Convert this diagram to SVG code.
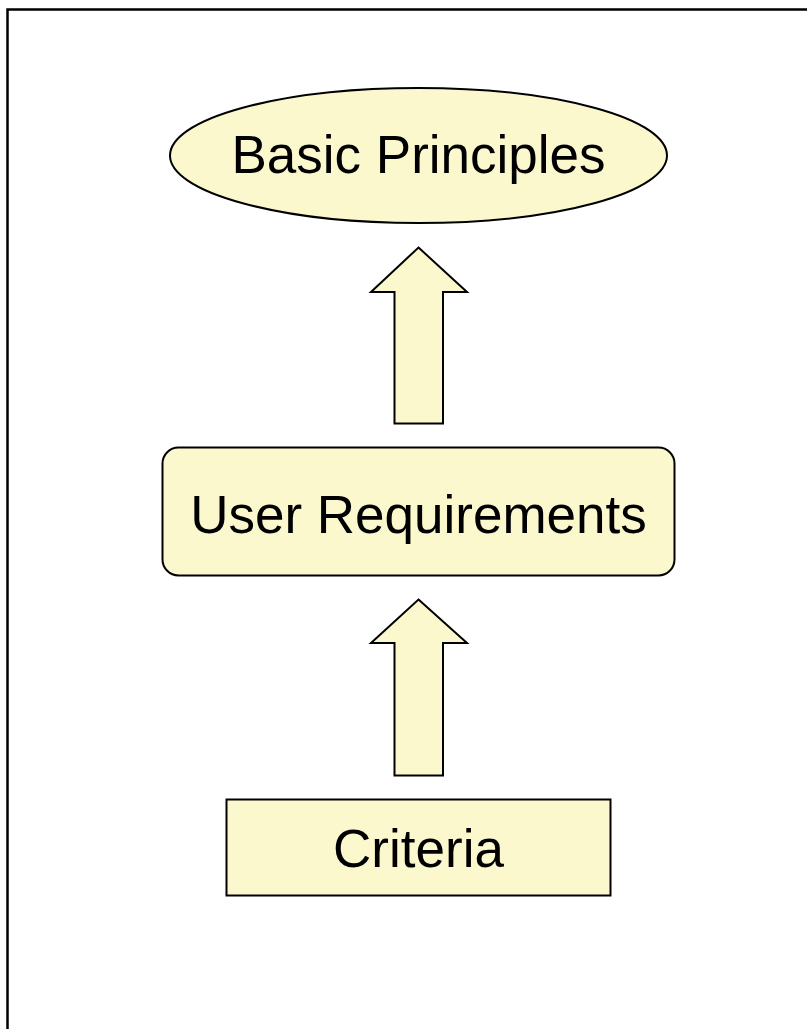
<svg xmlns="http://www.w3.org/2000/svg" width="807" height="1029" viewBox="0 0 807 1029">
<style>
.shape{fill:#FBF8CE;stroke:#000;stroke-width:2}
.lbl{font-family:"Liberation Sans",Arial,sans-serif;font-size:53px;fill:#000;text-anchor:middle}
</style>
<rect x="0" y="0" width="807" height="1029" fill="#fff"/>
<rect x="7.5" y="9.5" width="830" height="1050" fill="none" stroke="#000" stroke-width="2.5"/>
<g id="basic-principles">
<ellipse class="shape" cx="418.5" cy="155.5" rx="248.5" ry="67.5"/>
<text class="lbl" x="418.5" y="173">Basic Principles</text>
</g>
<g id="user-requirements">
<rect class="shape" x="162.5" y="447.5" width="512" height="128" rx="16"/>
<text class="lbl" x="418.5" y="533">User Requirements</text>
</g>
<g id="criteria">
<rect class="shape" x="226.5" y="799.5" width="384" height="96"/>
<text class="lbl" x="418.5" y="867">Criteria</text>
</g>
<g id="connectors">
<polygon class="shape" points="418.5,247.5 467,292 443,292 443,423.5 394.5,423.5 394.5,292 371,292"/>
<polygon class="shape" points="418.5,599.5 467,643 443,643 443,775.5 394.5,775.5 394.5,643 371,643"/>
</g>
</svg>
